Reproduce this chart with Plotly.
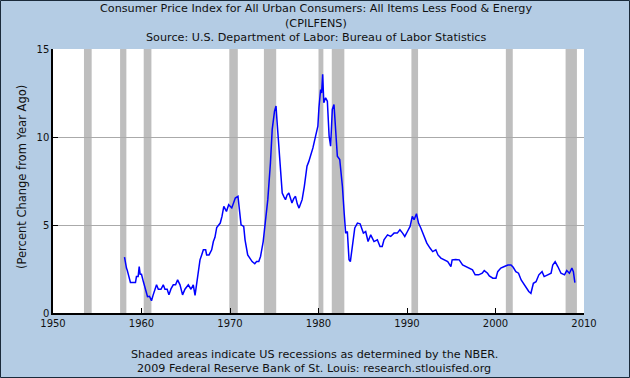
import plotly.graph_objects as go

# ---- data (decimal year, percent change from year ago) ----
years = [
    1958.08, 1958.19, 1958.30, 1958.38, 1958.49, 1958.60, 1958.75, 1959.32, 1959.43, 1959.62,
    1959.74, 1959.85, 1960.00, 1960.20, 1960.38, 1960.55, 1960.68, 1960.90, 1961.13, 1961.32,
    1961.50, 1961.70, 1961.90, 1962.20, 1962.46, 1962.65, 1962.90, 1963.10, 1963.33, 1963.59,
    1963.85, 1964.08, 1964.35, 1964.64, 1964.91, 1965.29, 1965.59, 1965.85, 1966.05, 1966.27,
    1966.45, 1966.61, 1966.80, 1966.99, 1967.25, 1967.36, 1967.63, 1967.93, 1968.12, 1968.30,
    1968.50, 1968.90, 1969.10, 1969.30, 1969.60, 1969.85, 1970.20, 1970.40, 1970.60, 1970.90,
    1971.05, 1971.25, 1971.55, 1971.70, 1972.00, 1972.25, 1972.50, 1972.80, 1973.00, 1973.25,
    1973.45, 1973.75, 1974.00, 1974.27, 1974.57, 1974.77, 1975.03, 1975.20, 1975.30, 1975.50,
    1975.70, 1975.90, 1976.10, 1976.27, 1976.45, 1976.65, 1977.00, 1977.20, 1977.40, 1977.60,
    1977.80, 1978.00, 1978.15, 1978.40, 1978.70, 1978.90, 1979.10, 1979.37, 1979.67, 1979.93,
    1980.05, 1980.24, 1980.35, 1980.47, 1980.60, 1980.80, 1981.00, 1981.20, 1981.37, 1981.56,
    1981.75, 1981.94, 1982.13, 1982.40, 1982.70, 1982.90, 1983.07, 1983.26, 1983.45, 1983.60,
    1983.83, 1984.10, 1984.40, 1984.70, 1985.07, 1985.33, 1985.60, 1985.90, 1986.27, 1986.65,
    1986.95, 1987.20, 1987.40, 1987.80, 1988.16, 1988.54, 1988.90, 1989.20, 1989.50, 1989.75,
    1990.05, 1990.35, 1990.60, 1990.80, 1991.07, 1991.30, 1991.56, 1991.94, 1992.24, 1992.60,
    1992.90, 1993.26, 1993.50, 1993.83, 1994.20, 1994.60, 1994.96, 1995.10, 1995.50, 1995.90,
    1996.28, 1996.65, 1997.03, 1997.40, 1997.70, 1998.10, 1998.50, 1998.73, 1999.10, 1999.30,
    1999.70, 2000.05, 2000.25, 2000.60, 2001.00, 2001.40, 2001.75, 2002.00, 2002.30, 2002.60,
    2002.90, 2003.27, 2003.53, 2003.76, 2004.00, 2004.28, 2004.58, 2004.90, 2005.26, 2005.50,
    2005.90, 2006.28, 2006.47, 2006.74, 2007.04, 2007.40, 2007.80, 2008.05, 2008.35, 2008.63,
    2008.80, 2008.97,
]
values = [
    3.17, 2.73, 2.55, 2.45, 2.26, 2.00, 1.73, 1.73, 2.07, 2.07,
    2.64, 2.20, 2.20, 1.80, 1.50, 1.20, 0.93, 0.95, 0.70, 1.03,
    1.30, 1.60, 1.35, 1.35, 1.60, 1.35, 1.35, 1.03, 1.37, 1.60,
    1.60, 1.88, 1.60, 1.03, 1.35, 1.60, 1.35, 1.60, 1.00, 1.76,
    2.50, 3.02, 3.30, 3.59, 3.59, 3.30, 3.30, 3.59, 4.06, 4.30,
    4.86, 5.11, 5.50, 6.06, 5.77, 6.15, 5.97, 6.30, 6.53, 6.63,
    5.80, 5.01, 4.92, 4.16, 3.30, 3.10, 2.92, 2.80, 2.92, 2.92,
    3.21, 4.06, 5.11, 6.44, 8.53, 10.43, 11.47, 11.76, 11.00, 9.48,
    7.96, 6.82, 6.60, 6.44, 6.70, 6.82, 6.25, 6.50, 6.63, 6.20,
    5.96, 6.20, 6.44, 7.20, 8.34, 8.60, 8.91, 9.38, 10.05, 10.62,
    11.66, 12.70, 12.50, 13.56, 11.95, 12.23, 12.04, 10.05, 9.48, 11.57,
    11.85, 10.05, 8.91, 8.72, 7.20, 5.68, 4.54, 4.63, 3.02, 2.92,
    3.97, 4.83, 5.11, 5.07, 4.54, 4.63, 4.06, 4.44, 4.06, 4.16,
    3.78, 3.78, 4.16, 4.44, 4.35, 4.54, 4.54, 4.73, 4.54, 4.35,
    4.63, 4.92, 5.49, 5.30, 5.64, 5.11, 4.83, 4.35, 3.97, 3.69,
    3.49, 3.59, 3.30, 3.12, 3.02, 2.92, 2.64, 3.02, 3.04, 3.02,
    2.73, 2.64, 2.55, 2.45, 2.17, 2.17, 2.26, 2.41, 2.26, 2.11,
    1.98, 1.98, 2.35, 2.55, 2.64, 2.73, 2.73, 2.60, 2.35, 2.26,
    1.88, 1.60, 1.41, 1.22, 1.12, 1.69, 1.78, 2.17, 2.35, 2.07,
    2.17, 2.26, 2.73, 2.92, 2.64, 2.26, 2.17, 2.41, 2.26, 2.55,
    2.35, 1.73,
]

recession_start = [1953.50, 1957.58, 1960.25, 1969.92, 1973.83, 1980.00, 1981.50, 1990.50, 2001.17, 2007.92]
recession_end = [1954.37, 1958.29, 1961.12, 1970.88, 1975.22, 1980.55, 1982.92, 1991.25, 2001.95, 2009.20]

x_ticks = [1950, 1960, 1970, 1980, 1990, 2000, 2010]
y_ticks = [0, 5, 10, 15]

title_lines = [
    "Consumer Price Index for All Urban Consumers: All Items Less Food &amp; Energy",
    "(CPILFENS)",
    "Source: U.S. Department of Labor: Bureau of Labor Statistics",
]
footer_lines = [
    "Shaded areas indicate US recessions as determined by the NBER.",
    "2009 Federal Reserve Bank of St. Louis: research.stlouisfed.org",
]
y_title = "(Percent Change from Year Ago)"

# ---- layout geometry ----
W, H = 630, 378
ML, MR, MT, MB = 53, 46, 49, 65
PW, PH = W - ML - MR, H - MT - MB
BG = "#B4CCE4"
FONT = "DejaVu Sans"
TXT = "#111111"
TSIZE = 11.2


def px_to_paper_y(p):
    return (H - MB - p) / PH


def px_to_paper_x(p):
    return (p - ML) / PW


fig = go.Figure()
fig.add_trace(go.Scatter(
    x=years, y=values, mode="lines",
    line=dict(color="#0000FF", width=1.5),
    hoverinfo="x+y", showlegend=False,
))

shapes = []
for s, e in zip(recession_start, recession_end):
    shapes.append(dict(type="rect", xref="x", yref="paper", x0=s, x1=e, y0=0, y1=1,
                       fillcolor="#BEBEBE", line=dict(width=0), layer="between"))
# outer border of the image
shapes.append(dict(type="rect", xref="paper", yref="paper",
                   x0=px_to_paper_x(0.5), x1=px_to_paper_x(W - 0.5),
                   y0=px_to_paper_y(H - 0.5), y1=px_to_paper_y(0.5),
                   line=dict(color="#1a2a3a", width=1), fillcolor="rgba(0,0,0,0)", layer="above"))

annotations = []
for txt, py in zip(title_lines, [9, 23, 37]):
    annotations.append(dict(text=txt, xref="paper", yref="paper", x=px_to_paper_x(316), y=px_to_paper_y(py),
                            xanchor="center", yanchor="middle", showarrow=False,
                            font=dict(family=FONT, size=TSIZE, color=TXT)))
for txt, py in zip(footer_lines, [354, 368]):
    annotations.append(dict(text=txt, xref="paper", yref="paper", x=px_to_paper_x(314), y=px_to_paper_y(py),
                            xanchor="center", yanchor="middle", showarrow=False,
                            font=dict(family=FONT, size=TSIZE, color=TXT)))
annotations.append(dict(text=y_title, xref="paper", yref="paper", x=px_to_paper_x(22), y=px_to_paper_y(177),
                        xanchor="center", yanchor="middle", textangle=-90, showarrow=False,
                        font=dict(family=FONT, size=11.5, color=TXT)))

fig.update_layout(
    width=W, height=H,
    margin=dict(l=ML, r=MR, t=MT, b=MB, pad=0),
    paper_bgcolor=BG, plot_bgcolor="#FFFFFF",
    font=dict(family=FONT, size=10, color=TXT),
    shapes=shapes, annotations=annotations,
    xaxis=dict(range=[1950, 2010], tickvals=x_ticks, ticktext=[str(v) for v in x_ticks],
               showgrid=False, zeroline=False, showline=True, linecolor="#000000", linewidth=2,
               ticks="inside", ticklen=5, tickcolor="#000000", tickwidth=1,
               tickfont=dict(family=FONT, size=10, color=TXT), fixedrange=True),
    yaxis=dict(range=[0, 15], tickvals=y_ticks, ticktext=[str(v) for v in y_ticks],
               showgrid=True, gridcolor="#AAAAAA", gridwidth=1, zeroline=False,
               showline=True, linecolor="#000000", linewidth=1.5,
               ticks="inside", ticklen=5, tickcolor="#000000", tickwidth=1,
               tickfont=dict(family=FONT, size=10, color=TXT), fixedrange=True),
)

fig.write_html("out.html", config={"displayModeBar": False},
               post_script="document.body.style.margin='0';document.body.style.overflow='hidden';")
